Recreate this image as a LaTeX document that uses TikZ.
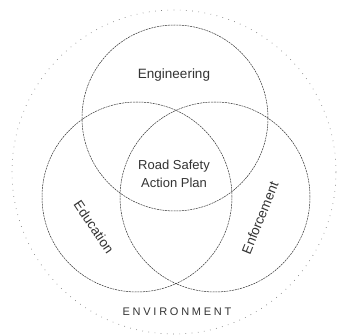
\documentclass[tikz,border=0pt]{standalone}
\usepackage{fontspec}
\setmainfont{Liberation Sans}
\usepackage{tikz}
\usetikzlibrary{positioning}

\begin{document}
\begin{tikzpicture}[
    x=1pt, y=1pt,
    ring/.style ={circle, draw=black!80, line width=0.5pt, dash pattern=on 2pt off 0.8pt, inner sep=0pt},
    envring/.style={circle, draw=black!50, line width=0.7pt, dash pattern=on 0.7pt off 5.5pt, inner sep=0pt, minimum size=324pt},
    lbl/.style  ={font=\fontsize{13.5}{15}\selectfont, text=black!80, align=center}
]
  \useasboundingbox (0,0) rectangle (338,335);

  % outer environment ring
  \node[envring] (env) at (174,163) {};

  % the three E's
  \node[ring, minimum size=186pt] (eng) at (175,217) {};
  \node[ring, minimum size=190pt] (edu) at (137,138) {};
  \node[ring, minimum size=190pt] (enf) at (215,138) {};

  \node[lbl] (englbl) at (174,260) {Engineering};
  \node[lbl, rotate=-56] (edulbl) at (94,108) {Education};
  \node[lbl, rotate=68]  (enflbl) at (260,117) {Enforcement};
  \node[lbl, font=\fontsize{13}{18}\selectfont] (plan) at (174,161) {Road Safety\\Action Plan};

  \node[lbl, font=\fontsize{11}{13}\selectfont\addfontfeature{LetterSpace=25}] (envlbl) at (177,23) {ENVIRONMENT};
\end{tikzpicture}
\end{document}
